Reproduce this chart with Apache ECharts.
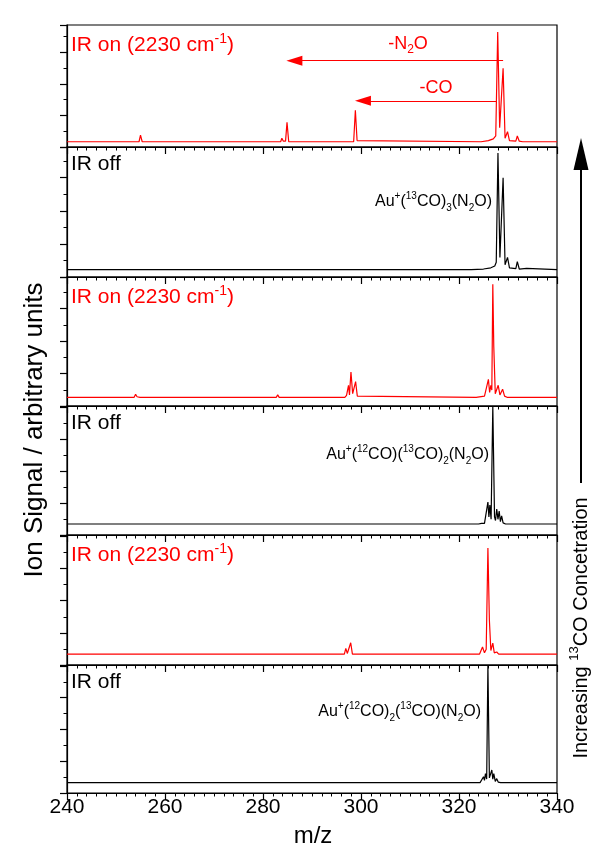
<!DOCTYPE html>
<html><head><meta charset="utf-8">
<script src="https://cdn.jsdelivr.net/npm/echarts@6/dist/echarts.min.js"></script>
<style>html,body{margin:0;padding:0;background:#fff}#c{width:601px;height:849px}</style>
</head><body><div id="c"></div>
<script>
// ---------- data (m/z, relative signal; 100 = panel top) ----------
const xTickLabels = [240, 260, 280, 300, 320, 340];

// Panel 1: IR on (2230 cm-1), Au+(13CO)3(N2O)
const p1x = [240, 254.7, 255, 255.35, 283.6, 283.85, 284.15, 284.6, 284.9, 285.25, 298.5, 298.85, 299.2, 299.6, 324.5, 326, 327, 327.5, 327.9, 328.3, 328.6, 329.0, 329.4, 329.9, 330.3, 331.6, 331.9, 332.3, 333, 340];
const p1y = [0, 0, 5.7, 0, 0, 3, 0.5, 0.5, 16.6, 0, 0, 27, 1, 0, 0, 1, 2.5, 5, 94, 12, 12, 63, 3, 8.6, 1, 0.5, 4.9, 0.5, 0, 0];
// Panel 2: IR off
const p2x = [240, 322.5, 325, 326.5, 327.3, 327.6, 327.95, 328.35, 328.6, 329.0, 329.4, 329.9, 330.3, 331.6, 331.9, 332.3, 333.8, 334.2, 340];
const p2y = [0, 0, 0.5, 1.5, 3, 6, 95, 10, 10, 75, 4, 10, 1.5, 0.8, 6.5, 0.5, 1, 0, 0];
// Panel 3: IR on, Au+(12CO)(13CO)2(N2O)
const p3x = [240, 253.7, 254, 254.3, 254.6, 254.9, 282.7, 283, 283.3, 296.7, 297.05, 297.3, 297.45, 297.65, 297.95, 298.3, 298.55, 298.9, 299.25, 299.6, 323.5, 325.2, 325.6, 326.0, 326.25, 326.5, 326.7, 326.9, 327.1, 327.4, 327.7, 328.0, 328.35, 328.9, 329.3, 329.8, 340];
const p3y = [0, 0, 2.5, 0.5, 2, 0, 0, 2, 0, 0, 1.7, 1, 10, 2, 21, 3, 2, 13, 1, 0, 0, 1, 2, 15, 4, 10, 6, 94, 42, 3, 2, 10, 2, 6.7, 1, 0, 0];
// Panel 4: IR off
const p4x = [240, 324, 324.6, 324.9, 325.2, 325.6, 325.9, 326.1, 326.3, 326.55, 326.9, 327.25, 327.45, 327.7, 327.95, 328.2, 328.45, 328.7, 329.0, 329.5, 340];
const p4y = [0, 0, 0.5, 1.7, 0.5, 1, 18.6, 6, 16, 4, 100, 6, 3, 12.7, 4, 11, 2, 6.8, 1, 0, 0];
// Panel 5: IR on, Au+(12CO)2(13CO)(N2O)
const p5x = [240, 252.7, 253, 253.3, 281.7, 282, 282.3, 296.6, 296.9, 297.2, 297.5, 297.9, 298.25, 324.2, 324.8, 325.2, 325.55, 325.9, 326.2, 326.5, 326.9, 327.2, 327.7, 328.1, 340];
const p5y = [0, 0, 1.5, 0, 0, 1.5, 0, 0, 4.8, 0.5, 1, 9.5, 0, 0, 5.9, 1, 4, 89, 28.6, 3, 9.2, 1, 1.7, 0, 0];
// Panel 6: IR off
const p6x = [240, 324.3, 325.0, 325.2, 325.4, 325.65, 325.9, 326.2, 326.4, 326.7, 326.9, 327.1, 327.4, 327.7, 328.0, 328.5, 340];
const p6y = [0, 0, 5, 2, 7.6, 3, 100, 4, 3, 10.8, 3, 7.6, 1, 3.4, 0.5, 0, 0];

const panelX = [p1x, p2x, p3x, p4x, p5x, p6x];
const panelY = [p1y, p2y, p3y, p4y, p5y, p6y];
const panelColor = ['#ff0000', '#000000', '#ff0000', '#000000', '#ff0000', '#000000'];
const panelIRon = [true, false, true, false, true, false];

// loss arrows in panel 1: [start m/z, tip m/z, height]
const arrowN2O = [329.0, 284.8, 69.4];
const arrowCO = [327.7, 298.8, 35.1];

// ---------- layout ----------
const L = 67, R = 601 - 557;
const tops = [25, 147, 277, 406, 535, 665];
const bottoms = [147, 277, 406, 535, 665, 793];
const yMins = [-4.5, -6, -7.2, -9.3, -9.2, -8.8];
const FONT = '"Liberation Sans", Arial, sans-serif';

const grids = [], xAxes = [], yAxes = [], series = [];
for (let i = 0; i < 6; i++) {
  grids.push({left: L, right: R, top: tops[i], height: bottoms[i] - tops[i], show: true, borderColor: '#000', borderWidth: 1.2, backgroundColor: 'transparent'});
  const last = i === 5;
  xAxes.push({
    gridIndex: i, type: 'value', min: xTickLabels[0], max: xTickLabels[xTickLabels.length - 1], interval: 20,
    axisLine: {onZero: false, lineStyle: {color: '#000', width: 1.2}},
    axisTick: {show: true, inside: false, length: 7, lineStyle: {color: '#000', width: 1.2}},
    minorTick: {show: true, splitNumber: 10, length: 3.5, lineStyle: {color: '#000', width: 1}},
    splitLine: {show: false}, minorSplitLine: {show: false},
    axisLabel: {show: last, color: '#000', fontSize: 21, fontFamily: FONT, margin: 4}
  });
  yAxes.push({
    gridIndex: i, type: 'value', min: yMins[i], max: 100,
    axisLine: {onZero: false, lineStyle: {color: '#000', width: 1.2}},
    axisTick: {show: true, inside: false, length: 7, lineStyle: {color: '#000', width: 1.2}},
    minorTick: {show: true, splitNumber: 2, length: 3.5, lineStyle: {color: '#000', width: 1}},
    splitLine: {show: false}, axisLabel: {show: false}, interval: 27
  });
  const s = {
    type: 'line', xAxisIndex: i, yAxisIndex: i, showSymbol: false, symbol: 'none',
    data: panelX[i].map((x, k) => [x, panelY[i][k]]),
    lineStyle: {color: panelColor[i], width: 1.2}, itemStyle: {color: panelColor[i]},
    silent: true, animation: false
  };
  if (i === 0) {
    const shift = 1.6;
    s.markLine = {
      silent: true, symbol: ['none', 'triangle'], symbolSize: [10, 16], animation: false,
      label: {show: false}, lineStyle: {color: '#ff0000', width: 1.2, type: 'solid'},
      data: [
        [{coord: [arrowN2O[0], arrowN2O[2]]}, {coord: [arrowN2O[1] + shift, arrowN2O[2]]}],
        [{coord: [arrowCO[0], arrowCO[2]]}, {coord: [arrowCO[1] + shift, arrowCO[2]]}]
      ]
    };
  }
  series.push(s);
}

// ---------- text ----------
const richBase = (fs, color) => ({
  n: {fontSize: fs, fontFamily: FONT, fill: color, lineHeight: fs + 6},
  sup: {fontSize: Math.round(fs * 0.65), fontFamily: FONT, fill: color, verticalAlign: 'top'},
  sub: {fontSize: Math.round(fs * 0.65), fontFamily: FONT, fill: color, verticalAlign: 'bottom'}
});
const graphics = [];
for (let i = 0; i < 6; i++) {
  const c = panelColor[i];
  graphics.push({
    type: 'text', left: 71, top: tops[i] + 7,
    style: {text: panelIRon[i] ? '{n|IR on (2230 cm}{sup|-1}{n|)}' : '{n|IR off}', rich: richBase(21, c), fill: c}
  });
}
const annot = [
  {panel: 1, x: 492, y: 202, text: '{n|Au}{sup|+}{n|(}{sup|13}{n|CO)}{sub|3}{n|(N}{sub|2}{n|O)}'},
  {panel: 3, x: 489, y: 455, text: '{n|Au}{sup|+}{n|(}{sup|12}{n|CO)(}{sup|13}{n|CO)}{sub|2}{n|(N}{sub|2}{n|O)}'},
  {panel: 5, x: 481, y: 712, text: '{n|Au}{sup|+}{n|(}{sup|12}{n|CO)}{sub|2}{n|(}{sup|13}{n|CO)(N}{sub|2}{n|O)}'}
];
annot.forEach(a => graphics.push({
  type: 'text', x: a.x, y: a.y,
  style: {text: a.text, rich: richBase(16, '#000'), align: 'right', verticalAlign: 'middle'}
}));
graphics.push({type: 'text', x: 408, y: 44, style: {text: '{n|-N}{sub|2}{n|O}', rich: richBase(18, '#ff0000'), fill: '#ff0000', align: 'center', verticalAlign: 'middle'}});
graphics.push({type: 'text', x: 436, y: 88, style: {text: '{n|-CO}', rich: richBase(18, '#ff0000'), fill: '#ff0000', align: 'center', verticalAlign: 'middle'}});
// axis names
graphics.push({type: 'text', x: 313, y: 836, style: {text: 'm/z', font: '24px ' + FONT, fill: '#000', align: 'center', verticalAlign: 'middle'}});
graphics.push({type: 'text', x: 35, y: 430, rotation: Math.PI / 2, style: {text: 'Ion Signal / arbitrary units', font: '26px ' + FONT, fill: '#000', align: 'center', verticalAlign: 'middle'}});
// right-hand arrow and note
graphics.push({type: 'line', shape: {x1: 581, y1: 483, x2: 581, y2: 160}, style: {stroke: '#000', lineWidth: 2}});
graphics.push({type: 'polygon', shape: {points: [[581, 138], [573.5, 170], [588.5, 170]]}, style: {fill: '#000'}});
graphics.push({type: 'text', x: 581, y: 628, rotation: Math.PI / 2,
  style: {text: '{n|Increasing }{sup|13}{n|CO Concetration}', rich: richBase(20, '#000'), align: 'center', verticalAlign: 'middle'}});

const chart = echarts.init(document.getElementById('c'), null, {renderer: 'canvas'});
chart.setOption({
  animation: false, backgroundColor: '#fff',
  grid: grids, xAxis: xAxes, yAxis: yAxes, series: series, graphic: graphics
});
</script></body></html>
